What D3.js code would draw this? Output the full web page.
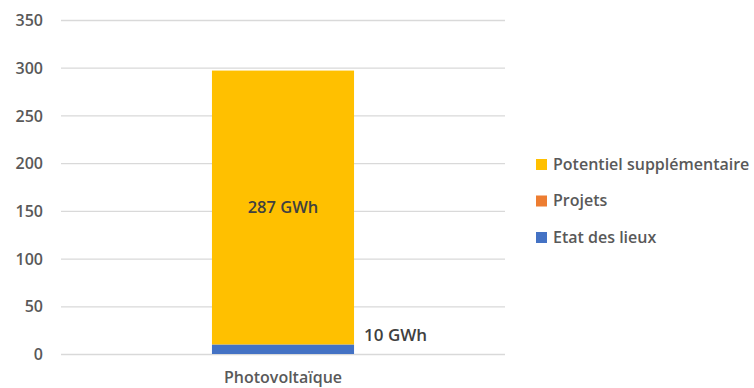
<!DOCTYPE html>
<html>
<head>
<meta charset="utf-8">
<script src="https://cdn.jsdelivr.net/npm/d3@7"></script>
<style>
  html, body { margin: 0; padding: 0; background: #fff; }
  svg text { font-family: "Open Sans", Lato, sans-serif; font-weight: 600; fill: #595959; }
</style>
</head>
<body>
<svg id="chart" width="754" height="388"></svg>
<script>
// Stacked production (GWh) by source
const categories = ["Photovoltaïque"];
const seriesNames = ["Etat des lieux", "Projets", "Potentiel supplémentaire"];
const etatDesLieux = [10];
const projets = [0];
const potentiel = [287];
const yTicks = [0, 50, 100, 150, 200, 250, 300, 350];
const seriesColors = ["#4472C4", "#ED7D31", "#FFC000"];
const legendOrder = ["Potentiel supplémentaire", "Projets", "Etat des lieux"];

const svg = d3.select("#chart");
const plot = { left: 61, right: 505, top: 20, bottom: 354 };

const x = d3.scaleBand().domain(categories)
  .range([plot.left, plot.right]).paddingInner(0.68).paddingOuter(0.34);
const y = d3.scaleLinear().domain([0, 350]).range([plot.bottom, plot.top]);

// Gridlines
svg.append("g").selectAll("line").data(yTicks).join("line")
  .attr("x1", plot.left).attr("x2", plot.right)
  .attr("y1", d => y(d) + 0.5).attr("y2", d => y(d) + 0.5)
  .attr("stroke", "#d9d9d9").attr("stroke-width", 1.3);

// Y axis labels
const yAxis = d3.axisLeft(y).tickValues(yTicks).tickSize(0).tickPadding(0);
const gy = svg.append("g").attr("transform", `translate(${plot.left - 18},0)`).call(yAxis);
gy.select(".domain").remove();
gy.selectAll("text").style("font-size", "16px").attr("dy", "0.35em")
  .style("font-family", "'Open Sans', sans-serif").style("font-weight", 600).style("fill", "#595959");

// Stacked bars
const rows = categories.map((c, i) => ({
  cat: c,
  "Etat des lieux": etatDesLieux[i],
  "Projets": projets[i],
  "Potentiel supplémentaire": potentiel[i]
}));
const stacked = d3.stack().keys(seriesNames)(rows);
const color = d3.scaleOrdinal().domain(seriesNames).range(seriesColors);

svg.append("g").selectAll("g").data(stacked).join("g")
  .attr("fill", d => color(d.key))
  .selectAll("rect").data(d => d).join("rect")
  .attr("x", d => x(d.data.cat))
  .attr("width", x.bandwidth())
  .attr("y", d => y(d[1]))
  .attr("height", d => y(d[0]) - y(d[1]));

// Value labels
const potLayer = stacked[2][0];
svg.append("text")
  .attr("x", x(categories[0]) + x.bandwidth() / 2)
  .attr("y", y((potLayer[0] + potLayer[1]) / 2))
  .attr("dy", "0.35em").attr("text-anchor", "middle")
  .style("font-size", "16.5px").style("fill", "#404040")
  .text(`${potentiel[0]} GWh`);

svg.append("text")
  .attr("x", x(categories[0]) + x.bandwidth() + 10)
  .attr("y", y(etatDesLieux[0]) - 9)
  .attr("dy", "0.35em")
  .style("font-size", "17px").style("fill", "#404040")
  .text(`${etatDesLieux[0]} GWh`);

// Category axis label
svg.append("text")
  .attr("x", x(categories[0]) + x.bandwidth() / 2)
  .attr("y", 377).attr("dy", "0.35em").attr("text-anchor", "middle")
  .style("font-size", "16px")
  .text(categories[0]);

// Legend
const legend = svg.append("g").selectAll("g").data(legendOrder).join("g")
  .attr("transform", (d, i) => `translate(536,${164 + i * 36.5})`);
legend.append("rect").attr("x", 0).attr("y", -5).attr("width", 11).attr("height", 11)
  .attr("fill", d => color(d));
legend.append("text").attr("x", 17).attr("dy", "0.35em")
  .style("font-size", "16px").text(d => d);
</script>
</body>
</html>
